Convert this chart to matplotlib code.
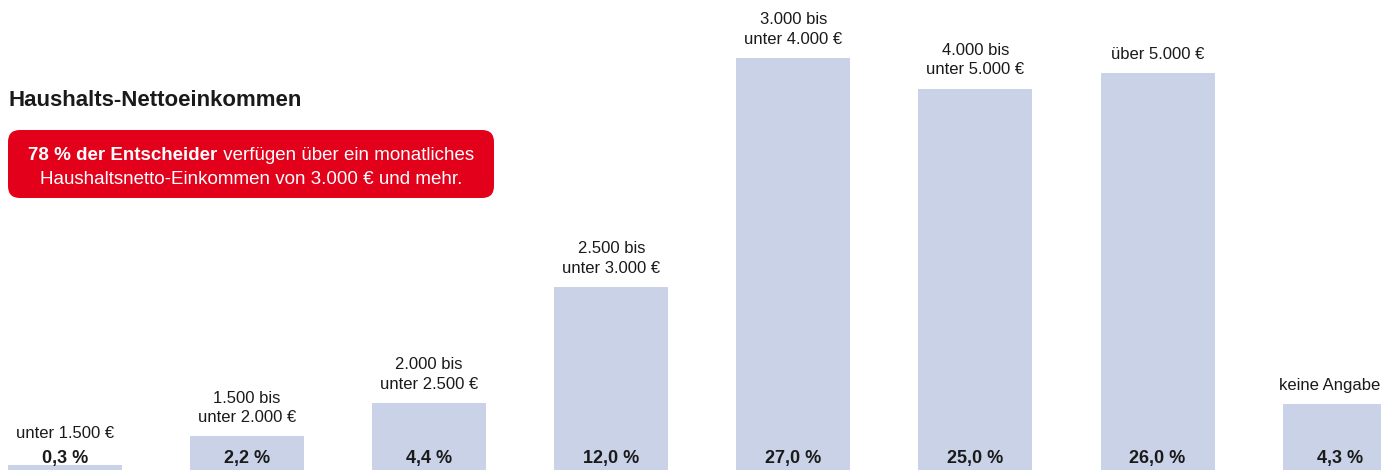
import matplotlib.pyplot as plt
from matplotlib.patches import FancyBboxPatch

# data
categories = ["unter 1.500 €", "1.500 bis\nunter 2.000 €", "2.000 bis\nunter 2.500 €",
              "2.500 bis\nunter 3.000 €", "3.000 bis\nunter 4.000 €",
              "4.000 bis\nunter 5.000 €", "über 5.000 €", "keine Angabe"]
shares = [0.3, 2.2, 4.4, 12.0, 27.0, 25.0, 26.0, 4.3]
value_labels = ["0,3 %", "2,2 %", "4,4 %", "12,0 %", "27,0 %", "25,0 %", "26,0 %", "4,3 %"]

TITLE = "Haushalts-Nettoeinkommen"
BOX_BOLD = "78 % der Entscheider"
BOX_LINE1 = " verfügen über ein monatliches"
BOX_LINE2 = "Haushaltsnetto-Einkommen von 3.000 € und mehr."

BAR_COLOR = "#C9D2E7"
RED = "#E2001A"
TEXT = "#1a1a1a"
FONT = ["Liberation Sans", "DejaVu Sans"]

W, H, DPI = 1381, 471, 100


def main():
    plt.rcParams["font.family"] = FONT
    fig = plt.figure(figsize=(W / DPI, H / DPI), dpi=DPI)
    ax = fig.add_axes([0, 0, 1, 1])
    ax.set_axis_off()

    # 182.1 px between bars, first bar centre at 65 px, 15.26 px per percent
    step, px_per = 182.1, 15.26
    ax.set_xlim(-65 / step, (W - 65) / step)
    ax.set_ylim(-1 / px_per, 470 / px_per)

    xs = list(range(len(shares)))
    ax.bar(xs, shares, width=114 / step, color=BAR_COLOR, linewidth=0)

    cat_texts = []
    for x, v, cat, lab in zip(xs, shares, categories, value_labels):
        ax.text(x, 11.5 / px_per, lab, ha="center", va="center",
                fontsize=13, fontweight="bold", color=TEXT)
        top = max(v, 1.2)
        t = ax.annotate(cat, (x, top), xytext=(0, 8), textcoords="offset points",
                        ha="center", va="bottom", fontsize=12, color=TEXT,
                        linespacing=1.38)
        cat_texts.append(t)

    # title
    fig.text(8 / W, 1 - 100 / H, TITLE, ha="left", va="center",
             fontsize=16, fontweight="bold", color=TEXT)

    # red callout box (inches)
    box = FancyBboxPatch((8 / DPI, (H - 198) / DPI), 486 / DPI, 68 / DPI,
                         boxstyle="round,pad=0,rounding_size=0.12",
                         transform=fig.dpi_scale_trans, facecolor=RED,
                         edgecolor="none")
    fig.patches.append(box)

    cx = 251 / W
    t_bold = fig.text(0, 1 - 156 / H, BOX_BOLD, ha="left", va="center",
                      fontsize=13.5, fontweight="bold", color="white")
    t_reg = fig.text(0, 1 - 156 / H, BOX_LINE1, ha="left", va="center",
                     fontsize=13.5, color="white")
    fig.text(cx, 1 - 180 / H, BOX_LINE2, ha="center", va="center",
             fontsize=13.5, color="white")

    renderer = fig.canvas.get_renderer()
    wb = t_bold.get_window_extent(renderer).width
    wr = t_reg.get_window_extent(renderer).width
    start = cx * W - (wb + wr) / 2
    t_bold.set_x(start / W)
    t_reg.set_x((start + wb) / W)

    # keep the last category label inside the picture
    for t in cat_texts:
        ext = t.get_window_extent(renderer)
        over = ext.x1 - (W - 1)
        if over > 0:
            dx, dy = t.get_position()
            t.set_position((dx - over * 72 / DPI, dy))

    fig.savefig("out.png", dpi=DPI)


if __name__ == "__main__":
    main()
